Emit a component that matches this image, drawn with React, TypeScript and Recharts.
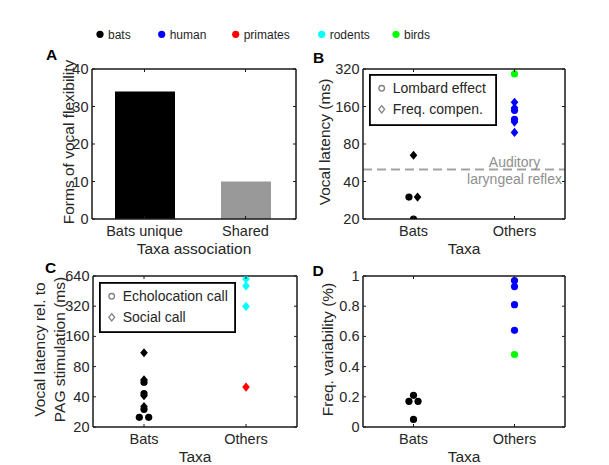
import React from 'react';
import { BarChart, Bar, XAxis, YAxis, ScatterChart, Scatter, ReferenceLine, Legend } from 'recharts';

// ---------------- data ----------------
const taxaAssociation = ['Bats unique', 'Shared'];
const formsOfFlexibility = [34, 10];
const formsTicks = [0, 10, 20, 30, 40];

const taxaLabels = ['Bats', 'Others'];
const taxaPositions = [1, 2];

const legendTaxa = ['bats', 'human', 'primates', 'rodents', 'birds'];

// Panel B: vocal latency (ms)
const batsLatencyB = [
  { x: 0.955, y: 30, kind: 'circle' },
  { x: 1.04, y: 30, kind: 'diamond' },
  { x: 1, y: 20, kind: 'circle' },
  { x: 1, y: 65, kind: 'diamond' },
];
const humanLatencyB = [
  { x: 2, y: 173, kind: 'diamond' },
  { x: 2, y: 156, kind: 'diamond' },
  { x: 2, y: 149, kind: 'circle' },
  { x: 2, y: 126, kind: 'circle' },
  { x: 2, y: 120, kind: 'diamond' },
  { x: 2, y: 99, kind: 'diamond' },
];
const birdsLatencyB = [{ x: 2, y: 292, kind: 'circle' }];
const latencyTicksB = [20, 40, 80, 160, 320];
const auditoryReflexMs = 50;
const legendB = ['Lombard effect', 'Freq. compen.'];

// Panel C: vocal latency rel. to PAG stimulation (ms)
const batsLatencyC = [
  { x: 1, y: 110, kind: 'diamond' },
  { x: 1, y: 59, kind: 'diamond' },
  { x: 1, y: 56, kind: 'circle' },
  { x: 1, y: 43, kind: 'circle' },
  { x: 1, y: 41, kind: 'diamond' },
  { x: 1, y: 32, kind: 'diamond' },
  { x: 1, y: 30, kind: 'circle' },
  { x: 0.954, y: 25, kind: 'circle' },
  { x: 1.046, y: 25, kind: 'circle' },
];
const primatesLatencyC = [{ x: 2, y: 50, kind: 'diamond' }];
const rodentsLatencyC = [
  { x: 2, y: 598, kind: 'diamond' },
  { x: 2, y: 510, kind: 'diamond' },
  { x: 2, y: 318, kind: 'diamond' },
];
const latencyTicksC = [20, 40, 80, 160, 320, 640];
const legendC = ['Echolocation call', 'Social call'];

// Panel D: frequency variability (%)
const batsFreqVar = [
  { x: 1, y: 0.21 },
  { x: 0.955, y: 0.17 },
  { x: 1.045, y: 0.17 },
  { x: 1, y: 0.05 },
];
const humanFreqVar = [
  { x: 2, y: 0.97 },
  { x: 2, y: 0.93 },
  { x: 2, y: 0.81 },
  { x: 2, y: 0.64 },
];
const birdsFreqVar = [{ x: 2, y: 0.48 }];
const freqVarTicks = [0, 0.2, 0.4, 0.6, 0.8, 1];

// ---------------- styles / layout ----------------
const FONT = '"Liberation Sans", Arial, Helvetica, sans-serif';
const AX = '#1a1a1a';
const TXT = '#262626';
const TAXON_COLORS: Record<string, string> = {
  bats: '#000000',
  human: '#0000ff',
  primates: '#ff0000',
  rodents: '#00ffff',
  birds: '#00ff00',
};
const BAR_FILLS = ['#000000', '#999999'];
const BAR_WIDTHS = [60, 50];

const W = 609;
const H = 465;
const LEFT_W = 30;
const BOTTOM_H = 30;
const TOP_H = 4;
const RIGHT_W = 4;
const TL = 3; // inward tick length
const TICK_FS = 14.5;
const TITLE_FS = 15.5;

type Box = { left: number; top: number; right: number; bottom: number };
const boxA: Box = { left: 92, top: 69, right: 296, bottom: 219 };
const boxB: Box = { left: 363, top: 69, right: 565, bottom: 219 };
const boxC: Box = { left: 93, top: 276, right: 297, bottom: 427 };
const boxD: Box = { left: 363, top: 276, right: 565, bottom: 427 };

const marginFor = (b: Box) => ({
  left: b.left - LEFT_W,
  top: b.top - TOP_H,
  right: W - b.right - RIGHT_W,
  bottom: H - b.bottom - BOTTOM_H,
});

const axisLine = { stroke: AX, strokeWidth: 1.5 };

const bottomTick = (fmt?: (v: any) => string) => (p: any) => (
  <g>
    <line x1={p.x} x2={p.x} y1={p.y} y2={p.y - TL} stroke={AX} strokeWidth={1} />
    <text x={p.x} y={p.y + 17} textAnchor="middle" fontSize={TICK_FS} fill={TXT} fontFamily={FONT}>
      {fmt ? fmt(p.payload.value) : p.payload.value}
    </text>
  </g>
);
const topTick = (p: any) => (
  <line x1={p.x} x2={p.x} y1={p.y} y2={p.y + TL} stroke={AX} strokeWidth={1} />
);
const leftTick = (p: any) => (
  <g>
    <line x1={p.x} x2={p.x + TL} y1={p.y} y2={p.y} stroke={AX} strokeWidth={1} />
    <text x={p.x - 3.5} y={p.y + 5} textAnchor="end" fontSize={TICK_FS} fill={TXT} fontFamily={FONT}>
      {String(p.payload.value)}
    </text>
  </g>
);
const rightTick = (p: any) => (
  <line x1={p.x} x2={p.x - TL} y1={p.y} y2={p.y} stroke={AX} strokeWidth={1} />
);

const taxaFmt = (v: any) => taxaLabels[taxaPositions.indexOf(v)] ?? '';

const xTitle = (text: string, b: Box) => () => (
  <text x={(b.left + b.right) / 2} y={b.bottom + 35} textAnchor="middle" fontSize={TITLE_FS} fill={TXT} fontFamily={FONT}>
    {text}
  </text>
);
const yTitle = (lines: string[], xs: number[], b: Box) => () => {
  const cy = (b.top + b.bottom) / 2 - 2;
  return (
    <g>
      {lines.map((t, i) => (
        <text
          key={i}
          x={xs[i]}
          y={cy}
          transform={`rotate(-90 ${xs[i]} ${cy})`}
          textAnchor="middle"
          fontSize={TITLE_FS}
          fill={TXT}
          fontFamily={FONT}
        >
          {t}
        </text>
      ))}
    </g>
  );
};

const marker = (color: string) => (p: any) => {
  const { cx, cy, payload } = p;
  if (cx == null || cy == null) return <g />;
  if (payload && payload.kind === 'diamond') {
    return (
      <polygon
        points={`${cx},${cy - 4.6} ${cx + 3.8},${cy} ${cx},${cy + 4.6} ${cx - 3.8},${cy}`}
        fill={color}
      />
    );
  }
  return <circle cx={cx} cy={cy} r={3.6} fill={color} />;
};

const LegendBox = ({ items, w, h }: { items: string[]; w: number; h: number }) => (
  <svg width={w} height={h} style={{ display: 'block' }}>
    <rect x={0.9} y={0.9} width={w - 1.8} height={h - 1.8} fill="#ffffff" stroke="#000000" strokeWidth={1.8} />
    <circle cx={12.7} cy={14.3} r={2.8} fill="none" stroke="#808080" strokeWidth={1.3} />
    <polygon
      points={`12.7,${35.3 - 3.6} 15.6,35.3 12.7,${35.3 + 3.6} 9.8,35.3`}
      fill="none"
      stroke="#808080"
      strokeWidth={1.3}
    />
    {items.map((t, i) => (
      <text key={t} x={23.7} y={14.3 + i * 21 + 5} fontSize={14} fill={TXT} fontFamily={FONT}>
        {t}
      </text>
    ))}
  </svg>
);

const TOP_LEGEND_X = [100, 161.7, 235.7, 321.7, 396];
const TopLegend = () => (
  <svg width={W} height={30} style={{ display: 'block' }}>
    {legendTaxa.map((t, i) => (
      <g key={t}>
        <circle cx={TOP_LEGEND_X[i]} cy={14.3} r={3.6} fill={TAXON_COLORS[t]} />
        <text x={TOP_LEGEND_X[i] + 8} y={19} fontSize={12} fill={TXT} fontFamily={FONT}>
          {t}
        </text>
      </g>
    ))}
  </svg>
);

const floatLegend = (left: number, top: number, w: number, h: number, content: () => React.ReactElement) => (
  <Legend
    layout="vertical"
    align="center"
    verticalAlign="middle"
    wrapperStyle={{ left, top, width: w, height: h, margin: 0, padding: 0 }}
    content={content}
  />
);

const abs: React.CSSProperties = { position: 'absolute', left: 0, top: 0 };

function PanelA() {
  const data = taxaAssociation.map((name, i) => ({ name, value: formsOfFlexibility[i] }));
  const BarShape = (p: any) => {
    const i = p.index ?? 0;
    const w = BAR_WIDTHS[i] ?? p.width;
    const cx = p.x + p.width / 2;
    return <rect x={cx - w / 2} y={p.y} width={w} height={p.height} fill={BAR_FILLS[i]} />;
  };
  return (
    <div style={abs}>
      <BarChart width={W} height={H} data={data} margin={marginFor(boxA)}>
        <XAxis
          dataKey="name"
          type="category"
          padding={{ left: 2, right: 0 }}
          height={BOTTOM_H}
          tickSize={0}
          tickMargin={0}
          interval={0}
          axisLine={axisLine}
          tick={bottomTick()}
          label={xTitle('Taxa association', boxA)}
        />
        <XAxis
          xAxisId="top"
          orientation="top"
          dataKey="name"
          type="category"
          padding={{ left: 2, right: 0 }}
          height={TOP_H}
          tickSize={0}
          tickMargin={0}
          interval={0}
          axisLine={axisLine}
          tick={topTick}
        />
        <YAxis
          type="number"
          domain={[0, 40]}
          ticks={formsTicks}
          allowDataOverflow
          width={LEFT_W}
          tickSize={0}
          tickMargin={0}
          interval={0}
          axisLine={axisLine}
          tick={leftTick}
          label={yTitle(['Forms of vocal flexibility'], [73.5], boxA)}
        />
        <YAxis
          yAxisId="right"
          orientation="right"
          type="number"
          domain={[0, 40]}
          ticks={formsTicks}
          allowDataOverflow
          width={RIGHT_W}
          tickSize={0}
          tickMargin={0}
          interval={0}
          axisLine={axisLine}
          tick={rightTick}
        />
        <Bar dataKey="value" barSize={60} shape={BarShape} isAnimationActive={false} />
        {floatLegend(0, 20, W, 30, () => <TopLegend />)}
      </BarChart>
    </div>
  );
}

type SeriesSpec = { name: string; data: any[]; color: string };

function ScatterPanel(props: {
  box: Box;
  log: boolean;
  domain: [number, number];
  ticks: number[];
  series: SeriesSpec[];
  yLines: string[];
  yXs: number[];
  legend?: { left: number; top: number; w: number; h: number; items: string[] };
  refLine?: boolean;
}) {
  const { box, log, domain, ticks, series } = props;
  const yCommon: any = {
    type: 'number',
    domain,
    ticks,
    allowDataOverflow: true,
    tickSize: 0,
    tickMargin: 0,
    interval: 0,
    axisLine,
  };
  if (log) yCommon.scale = 'log';
  const xCommon: any = {
    type: 'number',
    dataKey: 'x',
    domain: [0.5, 2.5],
    ticks: taxaPositions,
    allowDataOverflow: true,
    tickSize: 0,
    tickMargin: 0,
    interval: 0,
    axisLine,
  };
  return (
    <div style={abs}>
      <ScatterChart width={W} height={H} margin={marginFor(box)}>
        <XAxis {...xCommon} height={BOTTOM_H} tick={bottomTick(taxaFmt)} label={xTitle('Taxa', box)} />
        <XAxis {...xCommon} xAxisId="top" orientation="top" height={TOP_H} tick={topTick} />
        <YAxis
          {...yCommon}
          dataKey="y"
          width={LEFT_W}
          tick={leftTick}
          label={yTitle(props.yLines, props.yXs, box)}
        />
        <YAxis {...yCommon} yAxisId="right" orientation="right" width={RIGHT_W} tick={rightTick} />
        {props.refLine && (
          <ReferenceLine
            y={auditoryReflexMs}
            stroke="#a3a3a3"
            strokeWidth={2}
            strokeDasharray="9 5"
            label={(lp: any) => {
              const vb = lp.viewBox || {};
              const cx = vb.x + vb.width * 0.75;
              return (
                <g>
                  <text x={cx} y={vb.y - 2.5} textAnchor="middle" fontSize={14} fill="#8f8f8f" fontFamily={FONT}>
                    Auditory
                  </text>
                  <text x={cx} y={vb.y + 15} textAnchor="middle" fontSize={14} fill="#8f8f8f" fontFamily={FONT}>
                    laryngeal reflex
                  </text>
                </g>
              );
            }}
          />
        )}
        {series.map((s) => (
          <Scatter
            key={s.name}
            name={s.name}
            data={s.data}
            fill={s.color}
            shape={marker(s.color)}
            isAnimationActive={false}
          />
        ))}
        {props.legend &&
          floatLegend(props.legend.left, props.legend.top, props.legend.w, props.legend.h, () => (
            <LegendBox items={props.legend!.items} w={props.legend!.w} h={props.legend!.h} />
          ))}
      </ScatterChart>
    </div>
  );
}

const PanelLetters = () => (
  <svg width={W} height={H} style={abs}>
    {[
      ['A', 46, 59.5],
      ['B', 313, 63],
      ['C', 45, 273],
      ['D', 312.5, 276],
    ].map(([t, x, y]) => (
      <text key={t as string} x={x as number} y={y as number} fontSize={15.5} fontWeight="bold" fill="#000" fontFamily={FONT}>
        {t}
      </text>
    ))}
  </svg>
);

export default function App() {
  return (
    <div style={{ position: 'absolute', left: 0, top: 0, width: W, height: H, background: '#fff', fontFamily: FONT }}>
      <PanelA />
      <ScatterPanel
        box={boxB}
        log
        domain={[20, 320]}
        ticks={latencyTicksB}
        series={[
          { name: 'bats', data: batsLatencyB, color: TAXON_COLORS.bats },
          { name: 'human', data: humanLatencyB, color: TAXON_COLORS.human },
          { name: 'birds', data: birdsLatencyB, color: TAXON_COLORS.birds },
        ]}
        yLines={['Vocal latency (ms)']}
        yXs={[330]}
        legend={{ left: 369, top: 74, w: 128, h: 52, items: legendB }}
        refLine
      />
      <ScatterPanel
        box={boxC}
        log
        domain={[20, 640]}
        ticks={latencyTicksC}
        series={[
          { name: 'bats', data: batsLatencyC, color: TAXON_COLORS.bats },
          { name: 'primates', data: primatesLatencyC, color: TAXON_COLORS.primates },
          { name: 'rodents', data: rodentsLatencyC, color: TAXON_COLORS.rodents },
        ]}
        yLines={['Vocal latency rel. to', 'PAG stimulation (ms)']}
        yXs={[45, 65]}
        legend={{ left: 99, top: 282, w: 137, h: 51, items: legendC }}
      />
      <ScatterPanel
        box={boxD}
        log={false}
        domain={[0, 1]}
        ticks={freqVarTicks}
        series={[
          { name: 'bats', data: batsFreqVar, color: TAXON_COLORS.bats },
          { name: 'human', data: humanFreqVar, color: TAXON_COLORS.human },
          { name: 'birds', data: birdsFreqVar, color: TAXON_COLORS.birds },
        ]}
        yLines={['Freq. variability (%)']}
        yXs={[333]}
      />
      <PanelLetters />
    </div>
  );
}
